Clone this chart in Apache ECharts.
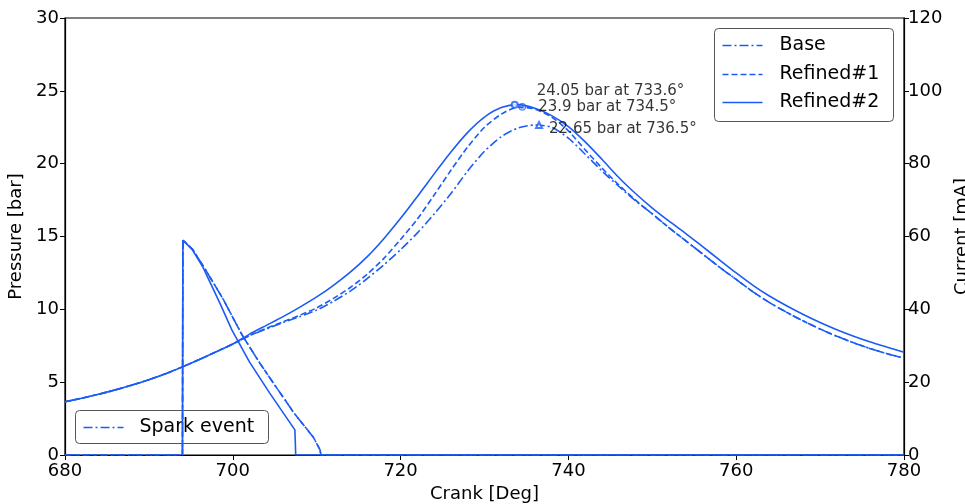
<!DOCTYPE html>
<html>
<head>
<meta charset="utf-8">
<script src="https://cdn.jsdelivr.net/npm/echarts@6/dist/echarts.min.js"></script>
<style>
html,body{margin:0;padding:0;background:#fff;}
#c{width:965px;height:504px;}
</style>
</head>
<body>
<div id="c"></div>
<script>
// ---- data ----
const crank = [680,682,684,686,688,690,692,694,696,698,700,702,704,706,708,710,712,714,716,718,720,722,724,726,728,730,732,734,736,738,740,742,744,746,748,750,752,754,756,758,760,762,764,766,768,770,772,774,776,778,780];
const pressureBase = [3.65,3.9,4.17,4.47,4.8,5.17,5.58,6.05,6.55,7.08,7.62,8.2,8.65,9.1,9.5,9.95,10.55,11.25,12.1,13.05,14.1,15.25,16.55,17.95,19.5,20.85,21.85,22.45,22.65,22.5,21.75,20.65,19.5,18.45,17.45,16.55,15.6,14.7,13.8,12.9,12.05,11.2,10.45,9.8,9.2,8.65,8.15,7.7,7.3,6.95,6.65];
const pressureRefined1 = [3.65,3.9,4.17,4.47,4.8,5.17,5.58,6.05,6.55,7.08,7.62,8.2,8.7,9.15,9.6,10.1,10.75,11.5,12.4,13.5,14.8,16.2,17.85,19.55,21.15,22.5,23.4,23.88,23.75,23.2,22.25,20.95,19.7,18.55,17.5,16.55,15.6,14.7,13.8,12.9,12.05,11.2,10.45,9.8,9.2,8.65,8.15,7.7,7.3,6.95,6.65];
const pressureRefined2 = [3.65,3.9,4.17,4.47,4.8,5.17,5.58,6.05,6.55,7.08,7.62,8.3,8.9,9.5,10.15,10.85,11.65,12.55,13.6,14.85,16.25,17.75,19.3,20.8,22.15,23.2,23.85,24.05,23.8,23.3,22.55,21.5,20.3,19.05,17.95,16.95,16.05,15.2,14.3,13.4,12.5,11.65,10.9,10.25,9.65,9.1,8.6,8.15,7.75,7.4,7.05];

const currentCrankA = [680,694.0,694.05,695.2,696.45,698.8,701.1,703.2,705.0,706.8,707.2,709.6,710.4,710.5,780];
const currentBase = [0,0,59,56.5,52,43,33,25.3,19.2,13.2,11.8,4.9,1.4,0,0];
const currentRefined1 = [0,0,59,56.5,52,43,33,25.3,19.2,13.2,11.8,4.9,1.4,0,0];
const currentCrankB = [694.0,694.05,695.2,696.45,698.5,699.9,702.0,704.4,707.4,707.5,780];
const currentRefined2 = [0,59,56.3,51.5,41.5,34.3,25.5,17.0,6.9,0,0];

const peakCrank = [733.6,734.5,736.5];
const peakPressure = [24.05,23.9,22.65];

const seriesNames = ['Base','Refined#1','Refined#2'];
const xTicks = [680,700,720,740,760,780];

// ---- styles ----
const BLUE = '#1a5cf5';
const FONT = 'DejaVu Sans';
const dashDot = [9,3,2,3];
const dashed = [6,3];
const pair = (xs, ys) => xs.map((x,i)=>[x, ys[i]]);

const chart = echarts.init(document.getElementById('c'), null, {renderer:'canvas'});

const lineSeries = (name, data, type, yIdx, smooth) => ({
  name, type:'line', data, yAxisIndex:yIdx, showSymbol:false, symbol:'none',
  smooth: smooth || false,
  lineStyle:{color:BLUE, width:1.6, type}, itemStyle:{color:BLUE},
  emphasis:{disabled:true},
  animation:false, z:3
});

const peakSymbols = ['emptyCircle','circle','emptyTriangle'];
const peakOffsets = [[14,-14],[8,0],[2,4]];
const peakSeries = peakCrank.map((c,i)=>({
  name:'peak'+i, type:'scatter', yAxisIndex:0,
  symbol:peakSymbols[i], symbolSize: i===1?7:6,
  itemStyle:{color: i===1 ? 'rgba(26,92,245,0.35)' : BLUE, borderColor:BLUE, borderWidth:1},
  data:[[c, peakPressure[i]]],
  label:{show:true, position:'right', distance:4, offset:peakOffsets[i],
    formatter: p => `${p.value[1]} bar at ${p.value[0]}°`,
    color:'#000', fontFamily:FONT, fontSize:15},
  emphasis:{disabled:true},
  animation:false, z:4
}));

const tickFont = {color:'#000', fontFamily:FONT, fontSize:18};

const option = {
  backgroundColor:'#fff',
  animation:false,
  grid:{left:65, right:61, top:18, bottom:49, containLabel:false, outerBoundsMode:'none',
    show:true, borderColor:'#000', borderWidth:1.2, backgroundColor:'transparent'},
  xAxis:{type:'value', min:680, max:780, interval:20,
    name:'Crank [Deg]', nameLocation:'middle', nameGap:29,
    nameTextStyle:{color:'#000', fontFamily:FONT, fontSize:18},
    axisLine:{show:true, lineStyle:{color:'#000', width:1.2}},
    axisTick:{show:true, length:5, lineStyle:{color:'#000'}},
    axisLabel:{...tickFont, margin:7, formatter: v => xTicks.includes(v) ? String(v) : ''},
    splitLine:{show:false}},
  yAxis:[
    {type:'value', min:0, max:30, interval:5, position:'left',
     name:'Pressure [bar]', nameLocation:'middle', nameGap:39, nameRotate:90,
     nameTextStyle:{color:'#000', fontFamily:FONT, fontSize:18},
     axisLine:{show:true, lineStyle:{color:'#000', width:1.2}},
     axisTick:{show:true, length:5, lineStyle:{color:'#000'}},
     axisLabel:{...tickFont, margin:6},
     splitLine:{show:false}},
    {type:'value', min:0, max:120, interval:20, position:'right',
     name:'Current [mA]', nameLocation:'middle', nameGap:49, nameRotate:90,
     nameTextStyle:{color:'#000', fontFamily:FONT, fontSize:18},
     axisLine:{show:true, lineStyle:{color:'#000', width:1.2}},
     axisTick:{show:true, length:5, lineStyle:{color:'#000'}},
     axisLabel:{...tickFont, margin:4},
     splitLine:{show:false}}
  ],
  series:[
    lineSeries(seriesNames[0], pair(crank, pressureBase), dashDot, 0, 0.25),
    lineSeries(seriesNames[1], pair(crank, pressureRefined1), dashed, 0, 0.25),
    lineSeries(seriesNames[2], pair(crank, pressureRefined2), 'solid', 0, 0.25),
    lineSeries('Spark event', pair(currentCrankA, currentBase), dashDot, 1),
    lineSeries('Spark Refined#1', pair(currentCrankA, currentRefined1), dashed, 1),
    lineSeries('Spark Refined#2', pair(currentCrankB, currentRefined2), 'solid', 1),
    ...peakSeries
  ],
  graphic:[
    {type:'group', left:714, top:28, z:100, children:[
      {type:'rect', shape:{x:0,y:0,width:179,height:93,r:4}, style:{fill:'rgba(255,255,255,0.8)', stroke:'#555', lineWidth:1}},
      {type:'line', shape:{x1:8,y1:17,x2:48,y2:17}, style:{stroke:BLUE, lineWidth:1.6, lineDash:dashDot}},
      {type:'text', style:{x:65,y:17,text:seriesNames[0], font:'19px "DejaVu Sans"', fill:'#000', textVerticalAlign:'middle'}},
      {type:'line', shape:{x1:8,y1:46,x2:48,y2:46}, style:{stroke:BLUE, lineWidth:1.6, lineDash:dashed}},
      {type:'text', style:{x:65,y:46,text:seriesNames[1], font:'19px "DejaVu Sans"', fill:'#000', textVerticalAlign:'middle'}},
      {type:'line', shape:{x1:8,y1:74,x2:48,y2:74}, style:{stroke:BLUE, lineWidth:1.6}},
      {type:'text', style:{x:65,y:74,text:seriesNames[2], font:'19px "DejaVu Sans"', fill:'#000', textVerticalAlign:'middle'}}
    ]},
    {type:'group', left:75, top:410, z:100, children:[
      {type:'rect', shape:{x:0,y:0,width:193,height:33,r:4}, style:{fill:'rgba(255,255,255,0.8)', stroke:'#555', lineWidth:1}},
      {type:'line', shape:{x1:8,y1:17,x2:48,y2:17}, style:{stroke:BLUE, lineWidth:1.6, lineDash:dashDot}},
      {type:'text', style:{x:64,y:17,text:'Spark event', font:'19px "DejaVu Sans"', fill:'#000', textVerticalAlign:'middle'}}
    ]}
  ]
};
chart.setOption(option);
</script>
</body>
</html>
